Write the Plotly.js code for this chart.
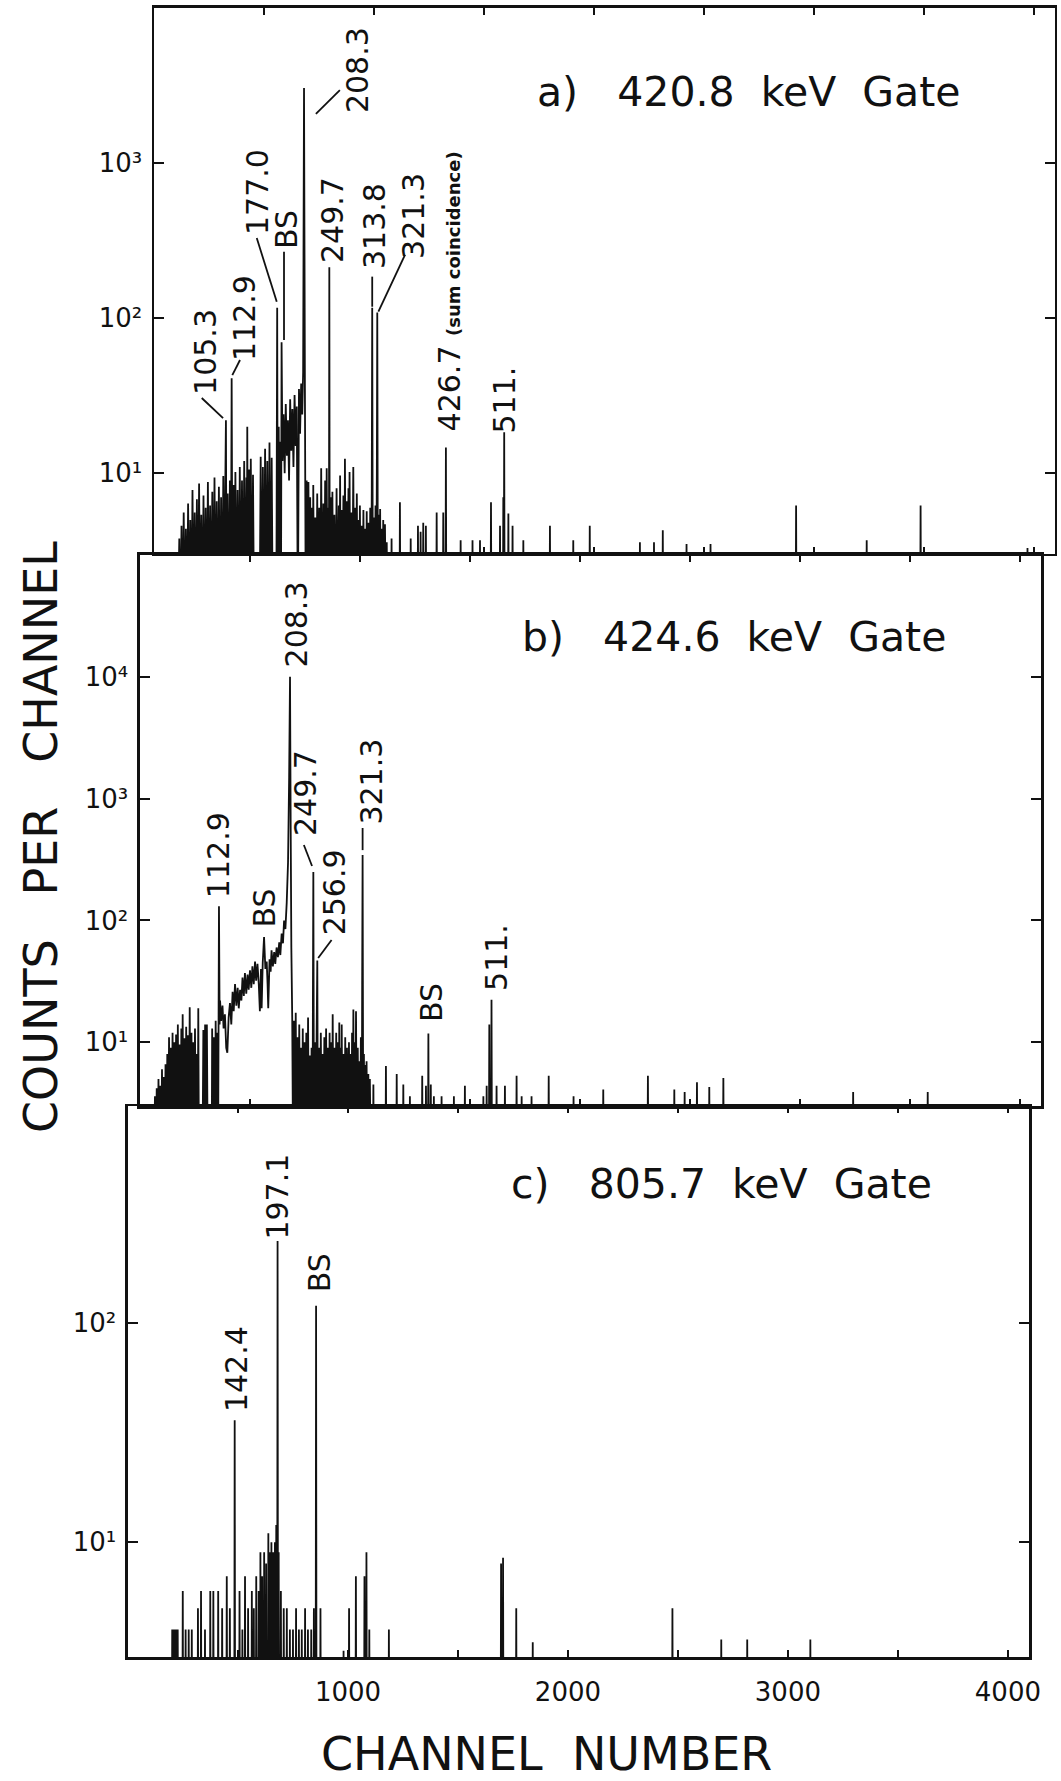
<!DOCTYPE html>
<html><head><meta charset="utf-8">
<script src="https://cdn.plot.ly/plotly-3.0.1.min.js"></script>
<style>html,body{margin:0;padding:0;background:#fff}#chart{width:1061px;height:1781px}</style>
</head><body><div id="chart"></div>
<script>
// ---------------- DATA (channel, counts) ----------------
// a) 420.8 keV gate : dense low-energy part
const spectrumA = [[108,1],[115,3.8],[120,1],[125,4.6],[130,1],[135,5.6],[140,1],[145,4.4],[150,1],[155,6.4],[160,1],[165,5.0],[170,1],[175,7.8],[180,1],[185,5.6],[190,1],[195,6.8],[200,1],[205,8.6],[210,1],[215,5.4],[220,1],[225,7.2],[230,1],[235,6.0],[240,1],[245,8.8],[250,1],[255,6.2],[260,1],[265,7.6],[270,1],[275,9.4],[280,1],[285,6.6],[290,1],[295,8.2],[300,1],[305,7.0],[310,1],[315,9.6],[320,1],[324,8.0],[327,22],[330,1],[335,7.4],[340,1],[345,9.0],[349,1],[353,41],[357,1],[362,8.4],[366,1],[370,10.2],[375,1],[380,7.8],[385,1],[390,11.0],[395,1],[400,9.0],[405,1],[410,12.0],[415,1],[420,9.4],[422,1],[424,20],[427,1],[432,10.6],[436,1],[440,12.4],[445,1],[450,9.8],[455,1],[468,1],[475,2.6],[480,1],[485,12.8],[490,1],[495,11.0],[500,1],[505,14.4],[510,1],[515,12.0],[520,1],[525,15.8],[530,1],[535,12.6],[540,1],[556,1],[560,117],[563,1],[567,20],[571,1],[575,16],[577,1],[580,70],[584,12],[589,24],[594,10],[599,28],[604,13],[609,22],[614,9],[619,30],[624,14],[629,26],[634,11],[639,32],[644,15],[649,27],[654,1],[659,35],[664,18],[669,38],[674,24],[678,45],[682,3050],[686,35],[690,1],[694,9.0],[698,1],[702,8.8],[706,1],[710,7.0],[714,1],[718,6.0],[722,1],[724,8.4],[728,1],[733,5.2],[738,1],[742,7.4],[746,1],[751,6.0],[756,1],[760,10.8],[765,1],[770,6.4],[774,1],[778,9.0],[782,1],[785,10.8],[789,1],[793,6.0],[795,1],[797,213],[799,1],[803,7.0],[807,1],[811,7.6],[815,1],[820,5.4],[825,1],[830,8.0],[835,1],[840,6.2],[843,1],[846,9.7],[849,1],[853,5.8],[857,1],[861,7.2],[865,1],[868,12.4],[872,1],[876,6.6],[880,1],[884,8.0],[886,1],[889,10.2],[893,1],[897,5.6],[901,1],[906,11.0],[910,1],[914,6.0],[918,1],[922,7.4],[926,1],[930,5.0],[933,1],[936,6.2],[940,1],[944,4.6],[948,1],[952,5.8],[956,1],[960,4.4],[964,1],[967,5.7],[971,1],[975,4.8],[979,1],[983,6.0],[987,1],[990,8],[992,117],[995,1],[1000,5.2],[1004,1],[1007,6.2],[1010,1],[1013,10],[1015,109],[1018,1],[1022,5.4],[1025,1],[1028,5.9],[1031,1],[1035,4.4],[1039,1],[1042,5.0],[1046,1],[1050,4.7],[1054,1],[1058,3.6],[1062,1]];
// a) isolated lines above channel 1060
const spikesA = [[1080,3.8],[1118,6.5],[1167,3.8],[1200,4.6],[1212,4.2],[1224,4.8],[1236,4.6],[1285,5.6],[1315,5.6],[1327,14.7],[1394,3.7],[1448,3.7],[1482,3.7],[1532,6.5],[1573,4.6],[1588,7],[1592,18.4],[1611,5.5],[1630,4.6],[1679,3.7],[1800,4.6],[1906,3.7],[1981,4.6],[2209,3.6],[2273,3.6],[2313,4.3],[2421,3.5],[2530,3.5],[2919,6.2],[3240,3.7],[3485,6.2],[3971,3.3]];

// b) 424.6 keV gate
const spectrumB = [[64,1],[68,3.6],[72,1],[76,4.2],[80,1],[84,5.0],[88,1],[92,4.4],[96,1],[100,6.0],[104,1],[108,5.2],[112,1],[116,6.6],[120,1],[124,8.0],[128,1],[132,11.0],[136,1],[140,9.0],[144,1],[148,12.0],[152,1],[156,10.0],[160,1],[164,11.6],[168,1],[172,14.0],[176,1],[180,9.6],[184,1],[188,13.0],[191,1],[194,17.0],[198,1],[202,10.8],[206,1],[210,13.4],[214,1],[218,11.4],[222,1],[226,19.4],[230,1],[234,12.0],[238,1],[242,10.0],[246,1],[250,13.0],[254,1],[258,8.0],[262,1],[265,19.0],[268,1],[284,1],[288,12.6],[292,1],[296,14.0],[300,1],[304,14],[308,1],[326,1],[328,13],[332,1],[336,11],[340,1],[344,15],[348,1],[352,12],[355,1],[359,131],[362,14],[364,22],[369,15],[375,20],[380,13],[386,17],[392,9],[397,8.2],[403,16],[409,21],[415,14],[421,26],[426,18],[432,30],[438,20],[444,28],[449,19],[455,27],[461,22],[466,34],[472,24],[477,37],[483,25],[489,36],[494,27],[500,39],[506,28],[511,42],[517,30],[523,46],[528,32],[534,44],[540,30],[545,18],[550,40],[553,19],[558,45],[564,73],[570,40],[576,46],[580,30],[583,19],[589,48],[594,38],[598,57],[604,42],[610,55],[615,44],[621,60],[627,50],[633,66],[638,52],[644,78],[650,65],[655,100],[661,85],[667,140],[673,300],[678,1500],[682,10000],[685,600],[688,60],[692,16],[696,1],[700,15],[704,1],[708,17.5],[712,1],[716,11],[720,1],[724,14],[728,1],[732,9],[736,1],[740,13],[744,1],[748,10],[752,1],[756,12],[760,1],[764,16],[768,1],[772,7.8],[776,1],[780,9.0],[784,1],[786,20],[788,250],[791,1],[796,10],[800,1],[803,12],[806,47],[809,1],[814,9],[818,1],[822,12],[826,1],[830,8],[834,1],[838,11],[842,1],[846,13],[850,1],[854,9],[858,1],[862,12],[866,1],[870,10],[873,1],[876,17],[880,1],[884,9],[888,1],[892,12],[896,1],[900,10],[903,1],[906,14.5],[909,1],[912,9],[915,1],[917,14],[921,1],[925,8],[929,1],[933,11],[937,1],[941,9],[945,1],[950,10],[954,1],[958,8],[961,1],[964,12],[967,1],[970,18.6],[973,1],[976,10],[979,1],[982,18],[986,1],[990,9],[994,1],[998,7],[1001,1],[1004,11],[1008,1],[1010,30],[1012,345],[1015,1],[1018,8],[1021,1],[1024,6.5],[1027,1],[1030,7],[1034,1],[1038,5.5],[1042,1],[1045,5.0],[1049,1]];
const spikesB = [[1061,4.5],[1118,6.4],[1167,5.5],[1197,4.5],[1227,3.6],[1283,5.3],[1300,4.4],[1311,11.8],[1322,4.5],[1336,3.6],[1371,3.6],[1427,3.6],[1477,4.4],[1561,3.6],[1576,4.4],[1588,14],[1598,22.3],[1621,4.4],[1659,4.4],[1712,5.3],[1735,3.6],[1780,3.6],[1858,5.3],[1971,3.6],[2106,4.1],[2309,5.3],[2429,4.1],[2476,3.9],[2532,4.7],[2588,4.3],[2652,5.1],[3242,3.9],[3581,3.9]];

// c) 805.7 keV gate
const spikesC = [[201,4],[207,4],[212,4],[220,4],[226,4],[249,6],[262,4],[276,4],[290,4],[318,5],[332,6],[350,4],[374,6],[388,6],[410,6],[428,5],[449,7],[463,5],[485,36],[507,6],[520,4],[532,7],[546,5],[563,6],[572,5],[583,7],[594,6],[602,9],[610,7],[619,9],[628,8],[638,11],[646,9],[652,10],[660,9],[668,10],[674,12],[680,237],[685,9],[695,6],[708,5],[722,5],[736,4],[750,4],[764,5],[777,4],[790,4],[805,5],[818,4],[833,4],[845,5],[855,120],[875,5],[980,3.2],[1005,5],[1036,7],[1075,7],[1084,9],[1097,4],[1186,4],[1696,8],[1705,8.5],[1765,5],[1840,3.5],[2475,5],[2697,3.6],[2815,3.6],[3102,3.6]];

// leader lines from labels to peaks: [channel, counts] start and end
const leadersA = [[[217,30.6],[314,22.7]],[[391,53.8],[356,43.0]],[[467,328.6],[558,127.9]],[[591,268.5],[591,72.4]],[[736,2075],[845,2958]],[[992,185.4],[992,118.6]],[[1141,255.9],[1020,110.2]]];
const leadersB = [[[745,416],[782,280]],[[871,69.2],[810,49.2]],[[1012,574],[1012,378]]];

const xMajorTicks = [1000,2000,3000,4000];
const yTickValsA = [10,100,1000];
const yTickValsB = [10,100,1000,10000];
const yTickValsC = [10,100];
const yTickTextAll = {10:'10\u00b9',100:'10\u00b2',1000:'10\u00b3',10000:'10\u2074'};
const gateTitles = ['a)\u00a0\u00a0 420.8\u00a0 keV\u00a0 Gate','b)\u00a0\u00a0 424.6\u00a0 keV\u00a0 Gate','c)\u00a0\u00a0 805.7\u00a0 keV\u00a0 Gate'];
const xTitle = 'CHANNEL\u00a0 NUMBER';
const yTitle = 'COUNTS\u00a0\u00a0 PER\u00a0\u00a0 CHANNEL';

// ---------------- build traces ----------------
const FLOOR = 1; // counts below the plotted floor of the log axis
function build(dense, spikes){
  const x=[], y=[];
  dense.forEach(p=>{x.push(p[0]); y.push(p[1]);});
  spikes.forEach(p=>{x.push(p[0]-2,p[0],p[0]+2); y.push(FLOOR,p[1],FLOOR);});
  return {x,y};
}
function buildLeaders(list){
  const x=[], y=[];
  list.forEach(s=>{x.push(s[0][0],s[1][0],null); y.push(s[0][1],s[1][1],null);});
  return {x,y};
}
const FONT = 'DejaVu Sans';
const lineStyle = {color:'#111', width:1.8, simplify:false};
const leadStyle = {color:'#111', width:1.8};
const dA = build(spectrumA, spikesA), dB = build(spectrumB, spikesB), dC = build([], spikesC);
const lA = buildLeaders(leadersA), lB = buildLeaders(leadersB);
const traces = [
  {x:dA.x, y:dA.y, xaxis:'x', yaxis:'y', mode:'lines', line:lineStyle, hoverinfo:'skip'},
  {x:dB.x, y:dB.y, xaxis:'x2', yaxis:'y2', mode:'lines', line:lineStyle, hoverinfo:'skip'},
  {x:dC.x, y:dC.y, xaxis:'x3', yaxis:'y3', mode:'lines', line:lineStyle, hoverinfo:'skip'},
  {x:lA.x, y:lA.y, xaxis:'x', yaxis:'y', mode:'lines', line:leadStyle, connectgaps:false, hoverinfo:'skip'},
  {x:lB.x, y:lB.y, xaxis:'x2', yaxis:'y2', mode:'lines', line:leadStyle, connectgaps:false, hoverinfo:'skip'}
];

function xax(domain, anchor, labels){
  return {domain, anchor, range:[0,4096], showline:true, linecolor:'#111', linewidth:2.5, mirror:'ticks',
    ticks:'inside', ticklen:7, tickwidth:2, tickcolor:'#111', tickmode:'array', tickvals:xMajorTicks,
    minor:{dtick:500, tick0:0, ticks:'inside', ticklen:7, tickwidth:2, tickcolor:'#111', showgrid:false},
    showticklabels:labels, ticklabelstandoff:10, tickfont:{family:FONT, size:26, color:'#111'},
    showgrid:false, zeroline:false, fixedrange:true};
}
function yax(domain, anchor, range, vals){
  return {domain, anchor, type:'log', range, showline:true, linecolor:'#111', linewidth:2.5, mirror:'ticks',
    ticks:'inside', ticklen:10, tickwidth:2, tickcolor:'#111', tickmode:'array', tickvals:vals,
    ticktext:vals.map(v=>yTickTextAll[v]), ticklabelstandoff:4, tickfont:{family:FONT, size:26, color:'#111'},
    showgrid:false, zeroline:false, fixedrange:true};
}

const ann = [];
function lab(xr, yr, ch, logv, text, size){
  ann.push({xref:xr, yref:yr, x:ch, y:logv, text, showarrow:false, textangle:-90,
    xanchor:'center', yanchor:'middle', font:{family:FONT, size:size||30, color:'#111'}});
}
// panel a labels
lab('x','y',234,1.786,'105.3');
lab('x','y',409,2.001,'112.9');
lab('x','y',473,2.814,'177.0');
lab('x','y',600,2.575,'BS');
lab('x','y',923,3.600,'208.3');
lab('x','y',809,2.633,'249.7');
lab('x','y',1005,2.595,'313.8');
lab('x','y',1177,2.659,'321.3');
lab('x','y',1345,2.172,'426.7 <span style="font-size:18px"><b>(sum coincidence)</b></span>');
lab('x','y',1595,1.475,'511.');
// panel b labels
lab('x2','y2',355,2.537,'112.9');
lab('x2','y2',568,2.106,'BS');
lab('x2','y2',709,4.430,'208.3');
lab('x2','y2',750,3.046,'249.7');
lab('x2','y2',886,2.230,'256.9');
lab('x2','y2',1053,3.137,'321.3');
lab('x2','y2',1323,1.322,'BS');
lab('x2','y2',1618,1.700,'511.');
// panel c labels
lab('x3','y3',491,1.790,'142.4');
lab('x3','y3',680,2.575,'197.1');
lab('x3','y3',871,2.230,'BS');
// gate titles
[[0.7059,0.9483],[0.6918,0.6423],[0.6796,0.3352]].forEach((p,i)=>{
  ann.push({xref:'paper', yref:'paper', x:p[0], y:p[1], text:gateTitles[i], showarrow:false,
    xanchor:'center', yanchor:'middle', font:{family:FONT, size:41, color:'#111'}});
});
ann.push({xref:'paper', yref:'paper', x:0.0386, y:0.530, text:yTitle, textangle:-90, showarrow:false,
  xanchor:'center', yanchor:'middle', font:{family:FONT, size:46, color:'#111'}});
ann.push({xref:'paper', yref:'paper', x:0.5155, y:0.0152, text:xTitle, showarrow:false,
  xanchor:'center', yanchor:'middle', font:{family:FONT, size:46, color:'#111'}});

const layout = {
  width:1061, height:1781, margin:{l:0,r:0,t:0,b:0}, showlegend:false,
  paper_bgcolor:'#fff', plot_bgcolor:'#fff', font:{family:FONT, color:'#111'},
  xaxis: xax([0.14515,0.99434],'y',false),
  yaxis: yax([0.68894,0.99551],'x',[0.48,4.0],yTickValsA),
  xaxis2: xax([0.13195,0.98115],'y2',false),
  yaxis2: yax([0.37900,0.68838],'x2',[0.477,5.0],yTickValsB),
  xaxis3: xax([0.12064,0.96984],'y3',true),
  yaxis3: yax([0.06962,0.37900],'x3',[0.477,2.99],yTickValsC),
  annotations: ann
};
Plotly.newPlot('chart', traces, layout, {staticPlot:true, displayModeBar:false});
</script></body></html>
